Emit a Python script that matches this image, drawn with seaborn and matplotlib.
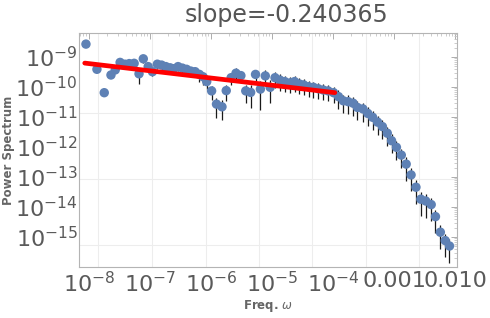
import numpy as np
import pandas as pd
import seaborn as sns
import matplotlib.pyplot as plt
from matplotlib.ticker import LogLocator, NullFormatter

# valores (log10)
log_freq = [-8.05, -7.87, -7.75, -7.64, -7.57, -7.49, -7.41, -7.34, -7.26, -7.18,
            -7.11, -7.03, -6.96, -6.88, -6.81, -6.74, -6.67, -6.61, -6.54, -6.47,
            -6.40, -6.33, -6.26, -6.19, -6.13, -6.07, -5.99, -5.91, -5.82, -5.75,
            -5.67, -5.59, -5.51, -5.43, -5.35, -5.27, -5.19, -5.11, -5.03, -4.95,
            -4.87, -4.79, -4.70, -4.63, -4.55, -4.48, -4.40, -4.32, -4.24, -4.16,
            -4.08, -3.99, -3.91, -3.83, -3.75, -3.67, -3.60, -3.51, -3.43, -3.35,
            -3.27, -3.19, -3.11, -3.04, -2.96, -2.88, -2.80, -2.72, -2.64, -2.56,
            -2.48, -2.39, -2.32, -2.24, -2.16, -2.09]
log_power = [-8.57, -9.41, -10.19, -9.60, -9.43, -9.18, -9.24, -9.22, -9.21, -9.56,
             -9.06, -9.32, -9.49, -9.24, -9.27, -9.32, -9.36, -9.39, -9.32, -9.37,
             -9.41, -9.47, -9.49, -9.58, -9.66, -9.82, -10.13, -10.57, -10.66, -10.12,
             -9.69, -9.54, -9.62, -10.13, -10.18, -9.58, -10.07, -9.63, -10.01, -9.69,
             -9.77, -9.82, -9.86, -9.82, -9.90, -9.93, -9.99, -10.01, -10.06, -10.10,
             -10.13, -10.19, -10.32, -10.46, -10.49, -10.54, -10.68, -10.73, -10.88, -11.01,
             -11.17, -11.32, -11.54, -11.79, -12.01, -12.27, -12.57, -12.93, -13.34, -13.74,
             -13.80, -13.92, -14.32, -14.84, -15.12, -15.30]
# erro relativo (barra = potência * (1 ± erro))
err_frac = [0.2] * 9 + [0.55] + [0.3] * 13 + [0.45] * 3 + \
           [0.5, 0.65, 0.65, 0.55, 0.45, 0.45, 0.45, 0.6, 0.7, 0.4, 0.8, 0.55, 0.7] + \
           [0.55] * 13 + [0.62] * 14 + [0.72] * 10

slope = -0.240365
fit_log_amp = -9.22          # log10 da potência ajustada em freq = 1e-8
fit_log_range = [-8.07, -3.97]

x_labels = [r'$10^{-8}$', r'$10^{-7}$', r'$10^{-6}$', r'$10^{-5}$', r'$10^{-4}$', '0.001', '0.010']
y_labels = [r'$10^{-15}$', r'$10^{-14}$', r'$10^{-13}$', r'$10^{-12}$',
            r'$10^{-11}$', r'$10^{-10}$', r'$10^{-9}$']

sns.set_style("white")
plt.rcParams['font.family'] = ['DejaVu Sans']

df = pd.DataFrame({'freq': 10.0 ** np.array(log_freq),
                   'power': 10.0 ** np.array(log_power),
                   'err': err_frac})
df['lower'] = df['power'] * (1 - df['err'])
df['upper'] = df['power'] * (1 + df['err'])

fit_x = 10.0 ** np.array(fit_log_range)
fit_df = pd.DataFrame({'freq': fit_x,
                       'power': 10.0 ** (fit_log_amp + slope * (np.log10(fit_x) + 8))})

fig = plt.figure(figsize=(4.9, 3.18), dpi=100)
ax = fig.add_axes([79 / 490, 51 / 318, 378 / 490, 234 / 318])
ax.set_xscale('log')
ax.set_yscale('log')
ax.set_xlim(10 ** -8.164, 10 ** -1.967)
ax.set_ylim(1e-16, 10 ** -8.2)

# grade do Mathematica (posições automáticas)
for gx in [-7.852, -6.967, -6.082, -5.213, -4.344, -3.459, -2.590]:
    ax.axvline(10 ** gx, color='#ededed', lw=0.8, zorder=0)
for gy in [-10.867, -13.067, -15.267]:
    ax.axhline(10 ** gy, color='#ededed', lw=0.8, zorder=0)

ax.vlines(df['freq'], df['lower'], df['upper'], color='#1a1a1a', lw=0.9, zorder=1)
sns.scatterplot(data=df, x='freq', y='power', color='#5e81b5', s=46,
                edgecolor='none', ax=ax, zorder=2, legend=False)
sns.lineplot(data=fit_df, x='freq', y='power', color='red', lw=3.4, ax=ax, zorder=3)

ax.set_xticks(10.0 ** np.arange(-8, -1))
ax.set_xticklabels(x_labels)
ax.set_yticks(10.0 ** np.arange(-15, -8))
ax.set_yticklabels(y_labels)
for axis in (ax.xaxis, ax.yaxis):
    axis.set_minor_locator(LogLocator(base=10, subs=np.arange(2, 10), numticks=30))
    axis.set_minor_formatter(NullFormatter())
ax.tick_params(which='both', direction='in', top=True, right=True,
               width=0.6, labelsize=16, labelcolor='#5a5a5a')
ax.tick_params(which='major', length=4, color='#a0a0a0')
ax.tick_params(which='minor', length=2, color='#c4c4c4')
ax.tick_params(axis='x', pad=3)
ax.tick_params(axis='y', pad=1)
for s in ax.spines.values():
    s.set_color('#b4b4b4')
    s.set_linewidth(0.8)
ax.set_xlabel('')
ax.set_ylabel('')

fig.text(287 / 490, 1 - 15 / 318, 'slope=-0.240365', fontsize=17, color='#555555',
         ha='center', va='center')
fig.text(9 / 490, 1 - 150 / 318, 'Power Spectrum', rotation=90, fontsize=8.5,
         fontweight='bold', color='#666666', ha='center', va='center')
fig.text(268 / 490, 1 - 306 / 318, r'Freq. $\omega$', fontsize=8.5,
         fontweight='bold', color='#666666', ha='center', va='center')

fig.savefig('out.png', dpi=100)
